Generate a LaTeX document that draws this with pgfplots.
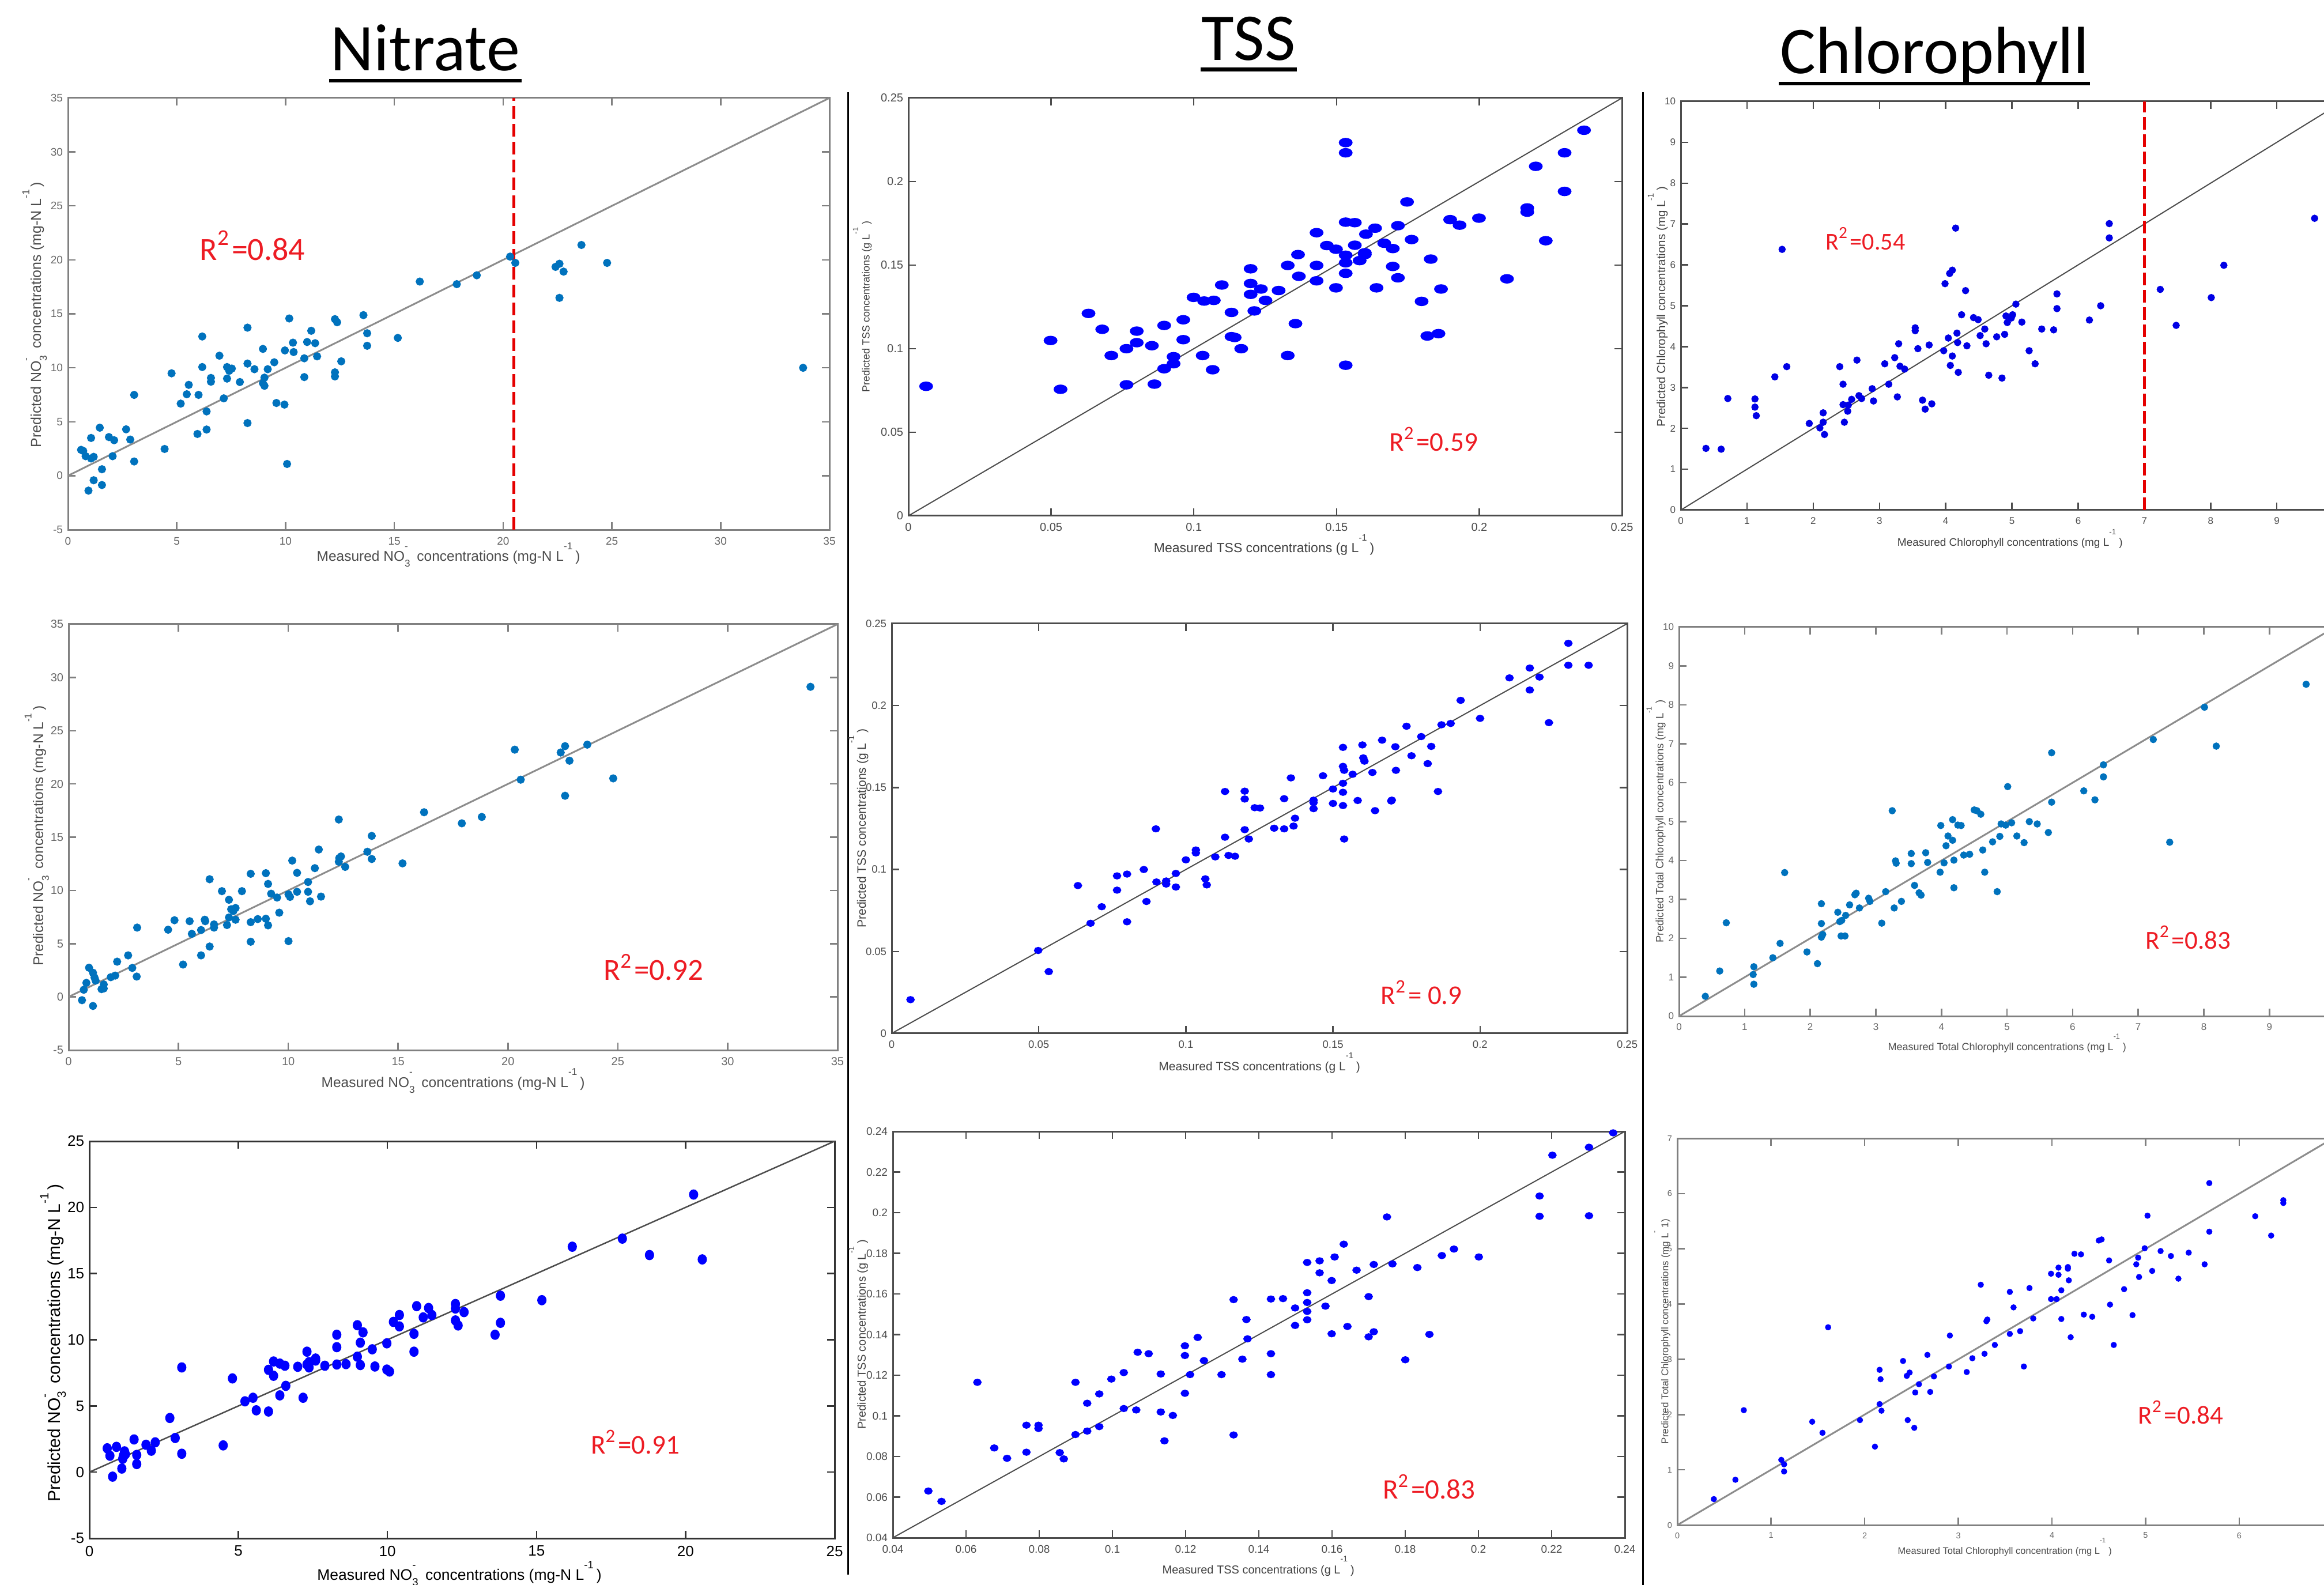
\documentclass[border=0pt]{standalone}
\usepackage{pgfplots}
\pgfplotsset{compat=1.18}
\usepackage{fontspec}
\setmainfont{Liberation Sans}
\newfontfamily\calibri{Carlito}
\definecolor{mblue}{RGB}{0,114,189}
\definecolor{rtxt}{RGB}{237,28,36}
\newcommand\fs[1]{\fontsize{#1}{#1}\selectfont}
\newcommand\NOt{NO\rlap{\textsuperscript{-}}\textsubscript{3}}
\newcommand\Linv{L\textsuperscript{-1}}
\pgfplotsset{
  panel/.style={scale only axis, anchor=north west, tick align=inside,
    major tick length=1.3pt, scaled ticks=false,
    axis line style={line width=0.3pt},
    tick style={line width=0.25pt},
    xticklabel style={inner sep=0.5pt, yshift=-0.6pt},
    yticklabel style={inner sep=0.5pt, xshift=-0.2pt}},
  lightp/.style={axis line style={black!50}, tick style={black!50}, tick label style={black!60, font=\fs{#1}}},
  darkp/.style={axis line style={black!70}, tick style={black!70}, tick label style={black!70, font=\fs{#1}}},
}
\begin{document}
\begin{tikzpicture}

% ---------------- Row 1, Nitrate ----------------
\begin{axis}[panel, lightp=1.9pt, at={(11.8pt,-17.0pt)}, width=132.1pt, height=74.9pt,
  xmin=0, xmax=35, ymin=-5, ymax=35,
  xtick={0,5,...,35}, xticklabels={0,5,10,15,20,25,30,35},
  ytick={-5,0,...,35}, yticklabels={-5,0,5,10,15,20,25,30,35}]
\addplot[black!45, line width=0.3pt] coordinates {(0,0) (35,35)};
\addplot[red!90!black, line width=0.5pt, dash pattern=on 2.2pt off 0.9pt] coordinates {(20.5,-5) (20.5,35)};
\addplot[only marks, mark=*, mark size=0.5pt, color=mblue] coordinates {
(0.6,2.4) (0.7,2.3) (0.81,1.81) (0.94,-1.38) (1.06,3.5) (1.06,1.6) (1.18,1.75) (1.18,-0.42) (1.46,4.45) (1.56,0.6) (1.56,-0.86) (1.88,3.58) (2.05,1.81) (2.12,3.29) (2.67,4.3) (2.86,3.35) (3.04,7.49) (3.04,1.32) (4.44,2.48) (4.76,9.49) (5.18,6.68) (5.46,7.55) (5.55,8.42) (5.95,3.87) (6.0,7.49) (6.17,12.9) (6.17,10.07) (6.37,5.96) (6.37,4.28) (6.57,9.06) (6.57,8.71) (6.96,11.12) (7.16,7.17) (7.31,9.0) (7.31,10.07) (7.41,9.72) (7.53,9.93) (7.9,8.68) (8.25,13.72) (8.25,10.39) (8.25,4.88) (8.57,9.87) (8.96,11.75) (8.96,8.57) (9.03,8.33) (9.03,9.09) (9.18,9.87) (9.48,10.51) (9.58,6.74) (9.95,6.59) (9.97,11.61) (10.07,1.09) (10.17,14.57) (10.34,12.33) (10.37,11.46) (10.86,10.88) (10.86,9.14) (10.99,12.39) (11.18,13.43) (11.36,12.28) (11.45,11.06) (12.27,14.51) (12.37,14.22) (12.27,9.58) (12.27,9.2) (12.56,10.6) (13.58,14.88) (13.75,13.2) (13.75,12.04) (15.16,12.77) (16.17,17.99) (17.87,17.75) (18.79,18.57) (20.32,20.3) (20.56,19.72) (22.41,19.35) (22.59,19.64) (22.78,18.91) (22.59,16.48) (23.6,21.38) (24.78,19.72) (33.79,10.0)};
\end{axis}

% ---------------- Row 1, TSS ----------------
\begin{axis}[panel, darkp=2.0pt, at={(157.6pt,-17.0pt)}, width=123.8pt, height=72.5pt,
  xmin=0, xmax=0.25, ymin=0, ymax=0.25,
  xtick={0,0.05,0.1,0.15,0.2,0.25}, xticklabels={0,0.05,0.1,0.15,0.2,0.25},
  ytick={0,0.05,0.1,0.15,0.2,0.25}, yticklabels={0,0.05,0.1,0.15,0.2,0.25}]
\addplot[black!70, line width=0.2pt] coordinates {(0,0) (0.25,0.25)};
\addplot[only marks, mark=*, mark size=0.62pt, mark options={xscale=1.6}, color=blue] coordinates {
(0.0062,0.0775) (0.0498,0.1049) (0.0533,0.0757) (0.0631,0.1211) (0.0679,0.1116) (0.0711,0.0959) (0.0764,0.1000) (0.0764,0.0784) (0.0800,0.1105) (0.0800,0.1036) (0.0853,0.1018) (0.0862,0.0788) (0.0896,0.1139) (0.0896,0.0880) (0.0929,0.0952) (0.0929,0.0910) (0.0963,0.1173) (0.0963,0.1054) (0.0999,0.1307) (0.1031,0.0959) (0.1036,0.1285) (0.1070,0.1289) (0.1066,0.0874) (0.1098,0.1381) (0.1132,0.1217) (0.1132,0.1072) (0.1143,0.1067) (0.1166,0.1000) (0.1199,0.1478) (0.1199,0.1390) (0.1199,0.1325) (0.1212,0.1226) (0.1235,0.1357) (0.1251,0.1289) (0.1297,0.1348) (0.1329,0.1498) (0.1329,0.0959) (0.1356,0.1150) (0.1365,0.1563) (0.1368,0.1433) (0.1430,0.1694) (0.1430,0.1498) (0.1430,0.1406) (0.1466,0.1617) (0.1498,0.1595) (0.1498,0.1364) (0.1532,0.2233) (0.1532,0.2172) (0.1532,0.1757) (0.1532,0.1559) (0.1532,0.1514) (0.1532,0.1451) (0.1532,0.0901) (0.1564,0.1754) (0.1564,0.1619) (0.1581,0.1527) (0.1599,0.1574) (0.1599,0.1563) (0.1603,0.1685) (0.1635,0.1721) (0.1640,0.1364) (0.1667,0.1631) (0.1697,0.1599) (0.1697,0.1492) (0.1715,0.1736) (0.1715,0.1424) (0.1747,0.1878) (0.1763,0.1653) (0.1798,0.1283) (0.1818,0.1076) (0.1830,0.1536) (0.1857,0.1090) (0.1866,0.1357) (0.1898,0.1772) (0.1931,0.1739) (0.1999,0.1781) (0.2097,0.1418) (0.2168,0.1842) (0.2168,0.1817) (0.2198,0.2091) (0.2233,0.1646) (0.2299,0.2172) (0.2299,0.1941) (0.2367,0.2307)};
\end{axis}

% ---------------- Row 1, Chlorophyll ----------------
\begin{axis}[panel, darkp=1.7pt, at={(291.6pt,-17.6pt)}, width=114.9pt, height=70.9pt,
  xmin=0, xmax=10, ymin=0, ymax=10,
  xtick={0,1,...,10}, xticklabels={0,1,2,3,4,5,6,7,8,9,{}},
  ytick={0,1,...,10}, yticklabels={0,1,2,3,4,5,6,7,8,9,10}]
\addplot[black!70, line width=0.2pt] coordinates {(0,0) (10,10)};
\addplot[red!90!black, line width=0.5pt, dash pattern=on 2.2pt off 0.8pt] coordinates {(7,0) (7,10)};
\addplot[only marks, mark=*, mark size=0.42pt, color=blue!90!black] coordinates {
(0.38,1.51) (0.61,1.49) (0.71,2.73) (1.12,2.72) (1.12,2.52) (1.14,2.31) (1.42,3.26) (1.53,6.38) (1.60,3.51) (1.94,2.12) (2.10,2.01) (2.15,2.38) (2.15,2.15) (2.17,1.85) (2.40,3.51) (2.45,3.08) (2.45,2.58) (2.47,2.15) (2.53,2.57) (2.52,2.42) (2.58,2.71) (2.66,3.67) (2.69,2.80) (2.73,2.73) (2.89,2.97) (2.91,2.67) (3.08,3.58) (3.14,3.08) (3.23,3.73) (3.27,2.77) (3.29,4.07) (3.31,3.52) (3.38,3.45) (3.54,4.46) (3.54,4.39) (3.58,3.95) (3.65,2.69) (3.69,2.47) (3.75,4.04) (3.79,2.60) (3.97,3.90) (3.99,5.54) (4.04,4.21) (4.06,5.79) (4.07,3.54) (4.10,5.87) (4.10,3.77) (4.15,6.90) (4.17,4.33) (4.18,4.10) (4.19,3.37) (4.24,4.78) (4.30,5.37) (4.32,4.02) (4.42,4.71) (4.49,4.66) (4.52,4.27) (4.59,4.43) (4.61,4.07) (4.65,3.30) (4.77,4.24) (4.85,3.23) (4.89,4.30) (4.91,4.75) (4.93,4.59) (4.99,4.70) (5.01,4.78) (5.06,5.04) (5.15,4.60) (5.26,3.90) (5.35,3.58) (5.45,4.43) (5.63,4.41) (5.68,5.29) (5.68,4.93) (6.17,4.65) (6.34,5.00) (6.47,7.01) (6.47,6.66) (7.24,5.40) (7.48,4.52) (8.01,5.20) (8.20,5.99) (9.57,7.14)};
\end{axis}

% ---------------- Row 2, Nitrate ----------------
\begin{axis}[panel, lightp=2.0pt, at={(11.9pt,-108.3pt)}, width=133.4pt, height=73.9pt,
  xmin=0, xmax=35, ymin=-5, ymax=35,
  xtick={0,5,...,35}, xticklabels={0,5,10,15,20,25,30,35},
  ytick={-5,0,...,35}, yticklabels={-5,0,5,10,15,20,25,30,35}]
\addplot[black!45, line width=0.3pt] coordinates {(0,0) (35,35)};
\addplot[only marks, mark=*, mark size=0.5pt, color=mblue] coordinates {
(0.61,-0.31) (0.69,0.67) (0.81,1.32) (0.93,2.74) (1.11,2.27) (1.11,-0.85) (1.18,1.82) (1.23,1.53) (1.50,0.73) (1.60,0.79) (1.60,1.17) (1.92,1.85) (2.12,2.0) (2.21,3.31) (2.71,3.9) (2.90,2.72) (3.10,1.91) (3.12,6.51) (4.53,6.31) (4.82,7.2) (5.21,3.04) (5.51,7.11) (5.61,5.92) (6.03,3.9) (6.03,6.28) (6.20,7.25) (6.22,7.11) (6.42,11.05) (6.42,4.73) (6.62,6.81) (6.62,6.51) (6.98,9.93) (7.21,6.75) (7.30,9.12) (7.30,7.46) (7.40,8.23) (7.50,8.06) (7.60,8.35) (7.60,7.25) (7.89,9.93) (8.29,11.56) (8.29,7.02) (8.29,5.18) (8.61,7.31) (8.98,11.62) (8.98,7.34) (9.08,10.61) (9.08,6.72) (9.22,9.69) (9.49,9.33) (9.59,7.91) (10.01,9.63) (10.01,5.24) (10.08,9.39) (10.18,12.8) (10.40,11.65) (10.40,9.87) (10.90,10.79) (10.90,9.87) (10.99,8.98) (11.21,12.09) (11.39,13.84) (11.49,9.42) (12.30,16.66) (12.30,12.69) (12.32,13.04) (12.40,13.19) (12.59,12.21) (13.60,13.63) (13.80,15.12) (13.80,12.95) (15.20,12.54) (16.18,17.34) (17.90,16.3) (18.81,16.9) (20.31,23.22) (20.58,20.4) (22.40,22.95) (22.60,23.55) (22.60,18.89) (22.80,22.18) (23.61,23.69) (24.79,20.52) (33.77,29.12)};
\end{axis}

% ---------------- Row 2, TSS ----------------
\begin{axis}[panel, darkp=1.85pt, at={(154.7pt,-108.2pt)}, width=127.6pt, height=71.1pt,
  xmin=0, xmax=0.25, ymin=0, ymax=0.25,
  xtick={0,0.05,0.1,0.15,0.2,0.25}, xticklabels={0,0.05,0.1,0.15,0.2,0.25},
  ytick={0,0.05,0.1,0.15,0.2,0.25}, yticklabels={0,0.05,0.1,0.15,0.2,0.25}]
\addplot[black!70, line width=0.2pt] coordinates {(0,0) (0.25,0.25)};
\addplot[only marks, mark=*, mark size=0.42pt, mark options={xscale=1.25}, color=blue] coordinates {
(0.0064,0.0206) (0.0498,0.0506) (0.0534,0.0377) (0.0633,0.0902) (0.0676,0.0672) (0.0714,0.0773) (0.0766,0.0874) (0.0766,0.0961) (0.0800,0.0972) (0.0800,0.0681) (0.0857,0.1000) (0.0866,0.0805) (0.0898,0.1248) (0.0900,0.0924) (0.0933,0.0930) (0.0933,0.0911) (0.0966,0.0976) (0.0966,0.0893) (0.1000,0.1059) (0.1034,0.1119) (0.1034,0.1101) (0.1066,0.0943) (0.1071,0.0906) (0.1100,0.1077) (0.1133,0.1476) (0.1133,0.1197) (0.1145,0.1086) (0.1167,0.1081) (0.1200,0.1478) (0.1200,0.1430) (0.1200,0.1243) (0.1214,0.1186) (0.1234,0.1377) (0.1252,0.1375) (0.1300,0.1252) (0.1334,0.1432) (0.1334,0.1248) (0.1357,0.1559) (0.1366,0.1265) (0.1371,0.1313) (0.1434,0.1423) (0.1434,0.1408) (0.1434,0.1371) (0.1466,0.1572) (0.1500,0.1491) (0.1500,0.1403) (0.1534,0.1745) (0.1534,0.1629) (0.1538,0.1605) (0.1534,0.1526) (0.1534,0.1471) (0.1534,0.1390) (0.1538,0.1186) (0.1567,0.1581) (0.1584,0.1421) (0.1600,0.1760) (0.1603,0.1681) (0.1607,0.1661) (0.1634,0.1592) (0.1643,0.1359) (0.1667,0.1789) (0.1698,0.1418) (0.1700,0.1423) (0.1712,0.1749) (0.1714,0.1605) (0.1750,0.1874) (0.1767,0.1694) (0.1800,0.1811) (0.1822,0.1646) (0.1834,0.1751) (0.1857,0.1476) (0.1869,0.1883) (0.1900,0.1891) (0.1934,0.2032) (0.2000,0.1922) (0.2100,0.2169) (0.2169,0.2229) (0.2169,0.2095) (0.2202,0.2174) (0.2234,0.1896) (0.2300,0.2380) (0.2300,0.2246) (0.2369,0.2246)};
\end{axis}

% ---------------- Row 2, Chlorophyll ----------------
\begin{axis}[panel, lightp=1.7pt, at={(291.3pt,-108.8pt)}, width=113.8pt, height=67.5pt,
  xmin=0, xmax=10, ymin=0, ymax=10,
  xtick={0,1,...,10}, xticklabels={0,1,2,3,4,5,6,7,8,9,{}},
  ytick={0,1,...,10}, yticklabels={0,1,2,3,4,5,6,7,8,9,10}]
\addplot[black!45, line width=0.3pt] coordinates {(0,0) (10,10)};
\addplot[only marks, mark=*, mark size=0.42pt, color=mblue] coordinates {
(0.40,0.51) (0.62,1.16) (0.72,2.40) (1.13,1.07) (1.14,1.27) (1.14,0.82) (1.43,1.50) (1.54,1.87) (1.61,3.69) (1.95,1.65) (2.11,1.35) (2.17,2.89) (2.17,2.38) (2.17,2.03) (2.19,2.10) (2.42,2.67) (2.45,2.43) (2.48,2.46) (2.47,2.06) (2.53,2.06) (2.54,2.59) (2.60,2.86) (2.68,3.12) (2.70,3.16) (2.75,2.78) (2.89,3.03) (2.91,2.95) (3.09,2.39) (3.15,3.20) (3.25,5.28) (3.28,2.78) (3.30,3.99) (3.31,3.93) (3.39,2.95) (3.54,4.18) (3.54,3.92) (3.59,3.36) (3.66,3.17) (3.69,3.11) (3.76,4.20) (3.79,3.95) (3.98,3.70) (3.99,4.90) (4.04,3.94) (4.07,4.38) (4.10,4.63) (4.17,4.52) (4.17,5.05) (4.19,4.01) (4.19,3.30) (4.25,4.91) (4.30,4.90) (4.34,4.14) (4.43,4.16) (4.50,5.30) (4.54,5.28) (4.60,5.19) (4.63,4.27) (4.66,3.70) (4.78,4.48) (4.85,3.20) (4.89,4.62) (4.91,4.94) (4.98,4.91) (5.01,5.90) (5.07,4.97) (5.15,4.63) (5.26,4.46) (5.34,5.00) (5.46,4.94) (5.63,4.72) (5.68,6.77) (5.68,5.50) (6.17,5.79) (6.34,5.56) (6.47,6.46) (6.47,6.15) (7.23,7.11) (7.48,4.47) (8.01,7.94) (8.19,6.94) (9.56,8.53)};
\end{axis}

% ---------------- Row 3, Nitrate ----------------
\begin{axis}[panel, at={(15.5pt,-198.0pt)}, width=129.3pt, height=68.9pt,
  axis line style={black!80}, tick style={black!80}, tick label style={black, font=\fs{2.6pt}},
  xmin=0, xmax=25, ymin=-5, ymax=25,
  xtick={0,5,...,25}, xticklabels={0,5,10,15,20,25},
  ytick={-5,0,...,25}, yticklabels={-5,0,5,10,15,20,25}]
\addplot[black!70, line width=0.25pt] coordinates {(0,0) (25,25)};
\addplot[only marks, mark=*, mark size=0.6pt, mark options={yscale=1.15}, color=blue] coordinates {
(0.60,1.80) (0.69,1.24) (0.78,-0.34) (0.91,1.91) (1.09,0.27) (1.12,1.01) (1.14,1.24) (1.18,1.57) (1.21,1.35) (1.50,2.47) (1.59,1.30) (1.59,0.61) (1.90,2.07) (2.08,1.62) (2.21,2.25) (2.70,4.09) (2.88,2.58) (3.10,7.91) (3.10,1.39) (4.49,2.02) (4.80,7.08) (5.22,5.35) (5.49,5.62) (5.60,4.67) (6.01,7.73) (6.01,4.58) (6.18,8.36) (6.18,7.28) (6.39,8.20) (6.39,5.80) (6.56,8.04) (6.59,6.52) (6.99,7.96) (7.17,5.62) (7.30,9.10) (7.30,8.13) (7.37,8.31) (7.37,7.91) (7.59,8.58) (7.59,8.43) (7.90,8.04) (8.30,10.38) (8.30,9.44) (8.30,8.13) (8.61,8.16) (8.99,11.10) (8.99,8.72) (9.09,9.78) (9.09,8.09) (9.18,10.56) (9.49,9.28) (9.58,7.98) (9.98,9.73) (9.98,7.75) (10.07,7.60) (10.20,11.35) (10.40,11.87) (10.40,11.01) (10.89,10.45) (10.89,9.10) (10.98,12.54) (11.20,11.69) (11.38,12.40) (11.49,11.87) (12.28,12.70) (12.28,12.36) (12.28,11.46) (12.37,11.08) (12.57,12.09) (13.61,10.38) (13.79,13.33) (13.79,11.28) (15.18,12.99) (16.20,17.03) (17.88,17.64) (18.79,16.40) (20.27,20.97) (20.56,16.07)};
\end{axis}

% ---------------- Row 3, TSS ----------------
\begin{axis}[panel, darkp=1.9pt, at={(154.9pt,-196.3pt)}, width=127.0pt, height=70.5pt,
  xmin=0.04, xmax=0.24, ymin=0.04, ymax=0.24,
  xtick={0.04,0.06,0.08,0.1,0.12,0.14,0.16,0.18,0.2,0.22,0.24},
  xticklabels={0.04,0.06,0.08,0.1,0.12,0.14,0.16,0.18,0.2,0.22,0.24},
  ytick={0.04,0.06,0.08,0.1,0.12,0.14,0.16,0.18,0.2,0.22,0.24},
  yticklabels={0.04,0.06,0.08,0.1,0.12,0.14,0.16,0.18,0.2,0.22,0.24}]
\addplot[black!70, line width=0.2pt] coordinates {(0.04,0.04) (0.24,0.24)};
\addplot[only marks, mark=*, mark size=0.42pt, mark options={xscale=1.25}, color=blue] coordinates {
(0.0497,0.0630) (0.0533,0.0579) (0.0631,0.1165) (0.0677,0.0842) (0.0712,0.0791) (0.0765,0.0954) (0.0765,0.0821) (0.0798,0.0954) (0.0798,0.0938) (0.0856,0.0819) (0.0867,0.0788) (0.0899,0.1165) (0.0899,0.0908) (0.0931,0.1062) (0.0931,0.0925) (0.0964,0.1108) (0.0964,0.0947) (0.0997,0.1181) (0.1031,0.1213) (0.1031,0.1036) (0.1065,0.1029) (0.1069,0.1313) (0.1099,0.1306) (0.1132,0.1206) (0.1132,0.1019) (0.1142,0.0877) (0.1165,0.1002) (0.1198,0.1345) (0.1198,0.1297) (0.1198,0.1111) (0.1212,0.1203) (0.1233,0.1386) (0.1250,0.1272) (0.1298,0.1203) (0.1331,0.1572) (0.1331,0.0906) (0.1355,0.1279) (0.1366,0.1474) (0.1369,0.1379) (0.1433,0.1575) (0.1433,0.1306) (0.1433,0.1203) (0.1466,0.1577) (0.1499,0.1531) (0.1499,0.1445) (0.1532,0.1755) (0.1532,0.1606) (0.1532,0.1558) (0.1532,0.1514) (0.1532,0.1473) (0.1566,0.1763) (0.1566,0.1704) (0.1582,0.1540) (0.1599,0.1666) (0.1599,0.1404) (0.1607,0.1782) (0.1632,0.1845) (0.1642,0.1440) (0.1667,0.1717) (0.1700,0.1587) (0.1700,0.1389) (0.1714,0.1745) (0.1714,0.1414) (0.1750,0.1979) (0.1765,0.1748) (0.1800,0.1276) (0.1833,0.1730) (0.1866,0.1401) (0.1900,0.1789) (0.1933,0.1821) (0.2001,0.1782) (0.2167,0.2082) (0.2167,0.1982) (0.2202,0.2283) (0.2302,0.2322) (0.2302,0.1985) (0.2368,0.2393)};
\end{axis}

% ---------------- Row 3, Chlorophyll ----------------
\begin{axis}[panel, lightp=1.45pt, at={(291.0pt,-197.5pt)}, width=113.75pt, height=67.1pt,
  xmin=0, xmax=7, ymin=0, ymax=7,
  xtick={0,1,...,7}, xticklabels={0,1,2,3,4,5,6,{}},
  ytick={0,1,...,7}, yticklabels={0,1,2,3,4,5,6,7}]
\addplot[black!45, line width=0.3pt] coordinates {(0,0) (7,7)};
\addplot[only marks, mark=*, mark size=0.32pt, color=blue] coordinates {
(0.39,0.47) (0.62,0.82) (0.71,2.08) (1.11,1.18) (1.14,1.10) (1.14,0.97) (1.44,1.87) (1.55,1.67) (1.61,3.58) (1.95,1.90) (2.11,1.42) (2.16,2.81) (2.17,2.64) (2.16,2.19) (2.18,2.07) (2.41,2.97) (2.45,2.70) (2.48,2.76) (2.46,1.90) (2.53,1.76) (2.54,2.40) (2.58,2.55) (2.67,3.08) (2.70,2.41) (2.74,2.69) (2.90,2.87) (2.91,3.43) (3.09,2.77) (3.15,3.02) (3.24,4.35) (3.28,3.10) (3.30,3.69) (3.31,3.72) (3.39,3.26) (3.55,4.22) (3.55,3.46) (3.59,3.94) (3.66,3.51) (3.70,2.87) (3.76,4.29) (3.80,3.74) (3.99,4.55) (3.99,4.09) (4.05,4.09) (4.07,4.66) (4.07,4.53) (4.10,4.25) (4.10,3.73) (4.17,4.67) (4.17,4.64) (4.18,4.43) (4.20,3.40) (4.24,4.91) (4.31,4.90) (4.34,3.81) (4.43,3.77) (4.50,5.15) (4.53,5.17) (4.61,4.79) (4.62,3.99) (4.66,3.26) (4.77,4.27) (4.86,3.80) (4.90,4.72) (4.92,4.84) (4.93,4.49) (4.99,5.01) (5.02,5.60) (5.07,4.60) (5.16,4.96) (5.27,4.87) (5.35,4.46) (5.46,4.93) (5.63,4.72) (5.68,6.19) (5.68,5.31) (6.17,5.59) (6.34,5.24) (6.47,5.88) (6.47,5.83)};
\end{axis}

% ---------------- Texts, separators ----------------
\begin{scope}[x=0.1pt,y=-0.1pt]
\draw[line width=0.3pt] (1471,160) -- (1471,2732);
\draw[line width=0.3pt] (2850,160) -- (2850,2750);
% titles
\node[anchor=base, font={\calibri\fs{11.6pt}}, inner sep=0] at (738,123) {Nitrate};
\node[anchor=base, font={\calibri\fs{11.6pt}}, inner sep=0] at (2166,105) {TSS};
\node[anchor=base, font={\calibri\fs{11.6pt}}, inner sep=0] at (3356,128) {Chlorophyll};
\fill (571,137) rectangle (905,143);
\fill (2083,117) rectangle (2250,124);
\fill (3086,142) rectangle (3626,148);
% R2
\begin{scope}[every node/.style={text=rtxt, inner sep=0}]
\node[font={\calibri\fs{5.6pt}}] at (438,426) {R\textsuperscript{2}=0.84};
\node[font={\calibri\fs{4.7pt}}] at (2487,762) {R\textsuperscript{2}=0.59};
\node[font={\calibri\fs{4.2pt}}] at (3236,414) {R\textsuperscript{2}=0.54};
\node[font={\calibri\fs{5.3pt}}] at (1134,1678) {R\textsuperscript{2}=0.92};
\node[font={\calibri\fs{4.7pt}}] at (2466,1722) {R\textsuperscript{2}= 0.9};
\node[font={\calibri\fs{4.5pt}}] at (3796,1626) {R\textsuperscript{2}=0.83};
\node[font={\calibri\fs{4.7pt}}] at (1102,2502) {R\textsuperscript{2}=0.91};
\node[font={\calibri\fs{4.9pt}}] at (2479,2579) {R\textsuperscript{2}=0.83};
\node[font={\calibri\fs{4.5pt}}] at (3783,2450) {R\textsuperscript{2}=0.84};
\end{scope}
% axis labels
\begin{scope}[every node/.style={inner sep=0}]
\node[font=\fs{2.45pt}, text=black!70] at (778,963) {Measured \NOt{} concentrations (mg-N \Linv)};
\node[font=\fs{2.5pt}, text=black!70, rotate=90] at (60,546) {Predicted \NOt{} concentrations (mg-N \Linv)};
\node[font=\fs{2.3pt}, text=black!75] at (2193,945) {Measured TSS concentrations (g \Linv)};
\node[font=\fs{1.8pt}, text=black!75, rotate=90] at (1496,532) {Predicted TSS concentrations (g \Linv)};
\node[font=\fs{1.9pt}, text=black!75] at (3487,935) {Measured Chlorophyll concentrations (mg \Linv)};
\node[font=\fs{2.05pt}, text=black!75, rotate=90] at (2876,532) {Predicted Chlorophyll concentrations (mg \Linv)};
\node[font=\fs{2.45pt}, text=black!70] at (786,1875) {Measured \NOt{} concentrations (mg-N \Linv)};
\node[font=\fs{2.45pt}, text=black!70, rotate=90] at (64,1450) {Predicted \NOt{} concentrations (mg-N \Linv)};
\node[font=\fs{2.1pt}, text=black!75] at (2185,1844) {Measured TSS concentrations (g \Linv)};
\node[font=\fs{2.1pt}, text=black!75, rotate=90] at (1489,1437) {Predicted TSS concentrations (g \Linv)};
\node[font=\fs{1.8pt}, text=black!70] at (3482,1810) {Measured Total Chlorophyll concentrations (mg \Linv)};
\node[font=\fs{1.85pt}, text=black!70, rotate=90] at (2873,1425) {Predicted Total Chlorophyll concentrations (mg \Linv)};
\node[font=\fs{2.65pt}, text=black] at (797,2730) {Measured \NOt{} concentrations (mg-N \Linv)};
\node[font=\fs{3.0pt}, text=black, rotate=90] at (92,2330) {Predicted \NOt{} concentrations (mg-N \Linv)};
\node[font=\fs{2.0pt}, text=black!75] at (2183,2717) {Measured TSS concentrations (g \Linv)};
\node[font=\fs{2.0pt}, text=black!75, rotate=90] at (1489,2315) {Predicted TSS concentrations (g \Linv)};
\node[font=\fs{1.65pt}, text=black!70] at (3478,2684) {Measured Total Chlorophyll concentration (mg \Linv)};
\node[font=\fs{1.7pt}, text=black!70, rotate=90] at (2884,2310) {Predicted Total Chlorophyll concentrations (mg L\textsuperscript{-}1)};
\end{scope}
\end{scope}
\pgfresetboundingbox
\path[use as bounding box] (0pt,0pt) rectangle (403.2pt,-275pt);
\end{tikzpicture}
\end{document}
